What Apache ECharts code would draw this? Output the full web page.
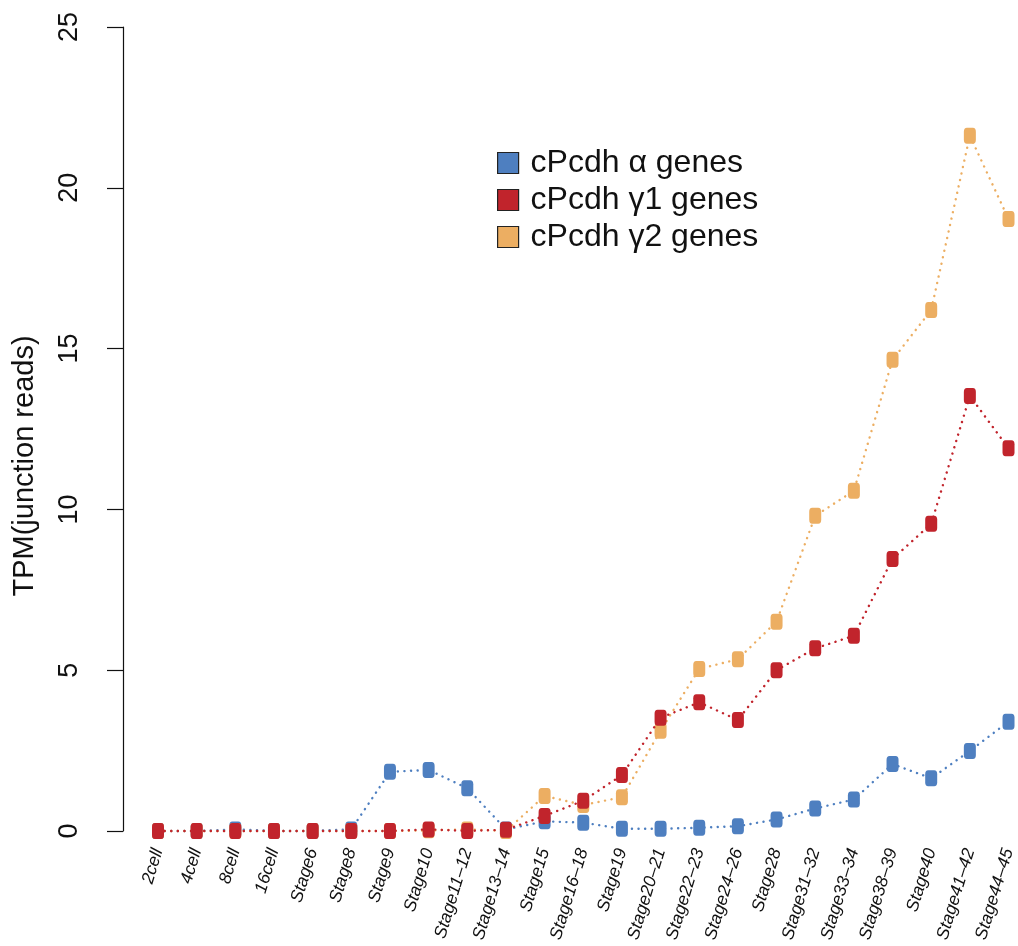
<!DOCTYPE html>
<html>
<head>
<meta charset="utf-8">
<title>cPcdh expression across developmental stages</title>
<script src="https://cdn.jsdelivr.net/npm/echarts@6/dist/echarts.min.js"></script>
<style>
  html, body { margin: 0; padding: 0; background: #ffffff; }
  #chart { width: 1018px; height: 946px; }
</style>
</head>
<body>
<div id="chart"></div>
<script>
// Developmental stages (x categories)
const stages = ['2cell', '4cell', '8cell', '16cell', 'Stage6', 'Stage8', 'Stage9', 'Stage10',
  'Stage11\u201312', 'Stage13\u201314', 'Stage15', 'Stage16\u201318', 'Stage19', 'Stage20\u201321',
  'Stage22\u201323', 'Stage24\u201326', 'Stage28', 'Stage31\u201332', 'Stage33\u201334',
  'Stage38\u201339', 'Stage40', 'Stage41\u201342', 'Stage44\u201345'];

// TPM (junction reads) per stage
const alphaGenes = [0, 0, 0.05, 0, 0, 0.05, 1.84, 1.9, 1.33, 0.05, 0.3, 0.26, 0.07, 0.07,
  0.1, 0.15, 0.36, 0.7, 0.98, 2.08, 1.64, 2.49, 3.4];
const gamma1Genes = [0, 0, 0, 0, 0, 0, 0, 0.05, 0, 0.04, 0.47, 0.94, 1.74, 3.52,
  4.0, 3.45, 5.0, 5.68, 6.07, 8.46, 9.55, 13.53, 11.9];
const gamma2Genes = [0, 0, 0, 0, 0, 0, 0, 0.02, 0.05, 0, 1.09, 0.81, 1.05, 3.12,
  5.04, 5.34, 6.51, 9.8, 10.58, 14.65, 16.2, 21.62, 19.03];

// Y axis ticks
const yMin = 0, yMax = 25, yStep = 5;

const names = ['cPcdh \u03b1 genes', 'cPcdh \u03b31 genes', 'cPcdh \u03b32 genes'];
const colors = ['#4E7FC0', '#C1242C', '#ECAE62'];
const FONT = 'Liberation Sans, Arial, Helvetica, sans-serif';

function lineSeries(name, data, color, z) {
  return {
    name: name,
    type: 'line',
    data: data,
    z: z,
    symbol: 'roundRect',
    symbolSize: [12, 16],
    showAllSymbol: true,
    clip: false,
    lineStyle: { color: color, width: 2.4, type: [0.1, 6.5], cap: 'round' },
    itemStyle: { color: color, borderColor: color, borderWidth: 0, opacity: 1 },
    emphasis: { disabled: true },
    animation: false
  };
}

const chart = echarts.init(document.getElementById('chart'), null, { renderer: 'canvas' });
chart.setOption({
  backgroundColor: '#ffffff',
  animation: false,
  grid: { left: 158, right: 8, top: 27, bottom: 115 },
  legend: {
    data: names,
    orient: 'vertical',
    left: 492,
    top: 142,
    itemWidth: 21,
    itemHeight: 21,
    itemGap: 5,
    icon: 'rect',
    itemStyle: { borderColor: '#222222', borderWidth: 1.2 },
    lineStyle: { opacity: 0 },
    textStyle: { fontFamily: FONT, fontSize: 32, color: '#111111', padding: [0, 0, 0, 7] },
    selectedMode: false
  },
  xAxis: {
    type: 'category',
    data: stages,
    boundaryGap: false,
    axisLine: { show: false },
    axisTick: { show: false },
    splitLine: { show: false },
    axisLabel: {
      interval: 0,
      rotate: 73,
      margin: 18,
      fontFamily: FONT,
      fontSize: 17.5,
      fontStyle: 'italic',
      color: '#111111'
    }
  },
  yAxis: {
    type: 'value',
    min: yMin,
    max: yMax,
    interval: yStep,
    offset: 35,
    axisLine: { show: true, lineStyle: { color: '#111111', width: 1.2 } },
    axisTick: { show: true, length: 16, lineStyle: { color: '#111111', width: 1.2 } },
    splitLine: { show: false },
    axisLabel: {
      rotate: 90,
      margin: 40,
      fontFamily: FONT,
      fontSize: 27,
      color: '#111111'
    }
  },
  graphic: [{
    type: 'text',
    x: 25,
    y: 466,
    rotation: Math.PI / 2,
    style: {
      text: 'TPM(junction reads)',
      font: '29px ' + FONT,
      fill: '#111111',
      textAlign: 'center',
      textVerticalAlign: 'middle'
    }
  }],
  series: [
    lineSeries(names[0], alphaGenes, colors[0], 2),
    lineSeries(names[2], gamma2Genes, colors[2], 3),
    lineSeries(names[1], gamma1Genes, colors[1], 4)
  ]
});
</script>
</body>
</html>
